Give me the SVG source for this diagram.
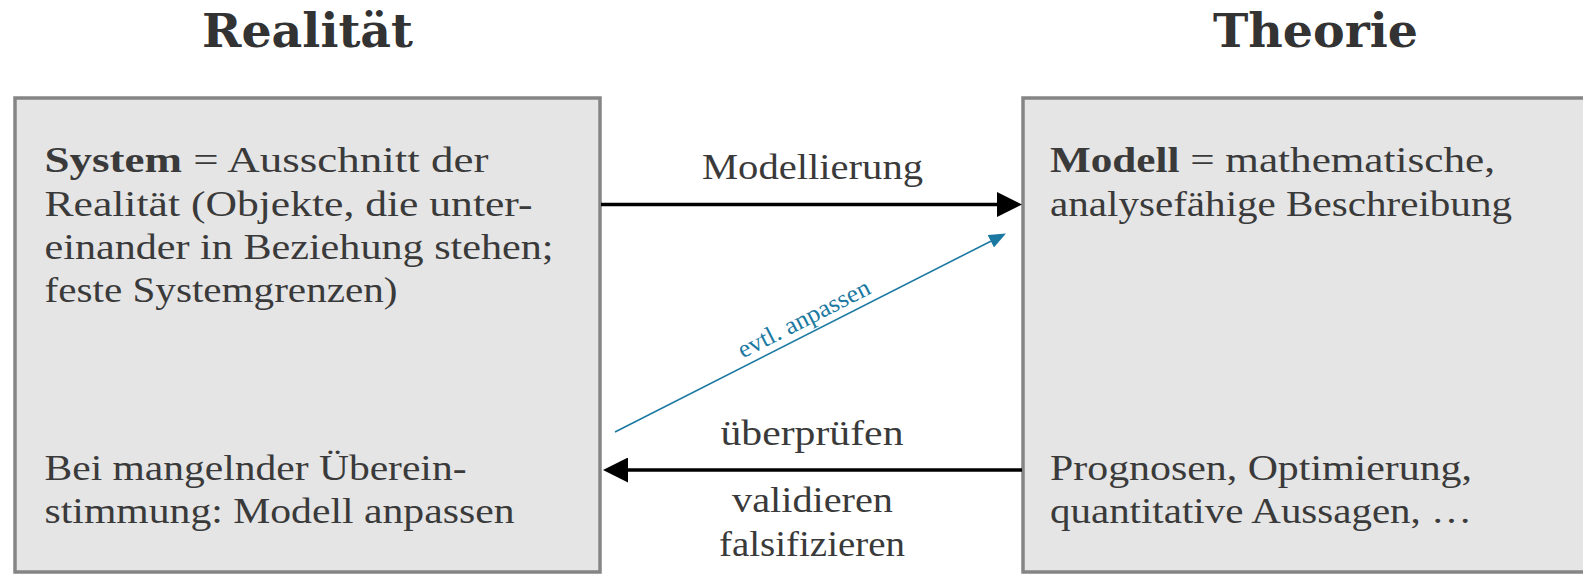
<svg xmlns="http://www.w3.org/2000/svg" width="1583" height="574" viewBox="0 0 1583 574">
<style>
.box{fill:#e5e5e5;stroke:#858585;stroke-width:3.5}
.title{font-family:"DejaVu Serif","Liberation Serif",serif;font-weight:bold;font-size:46px;fill:#333;text-anchor:middle}
.t{font-family:"Liberation Serif","Times New Roman",serif;font-size:35px;fill:#3a3a3a}
.c{text-anchor:middle}
.b{font-weight:bold}
.blk{stroke:#000;stroke-width:3.5;fill:none}
.blu{stroke:#1b79a1;stroke-width:1.6;fill:none}
.bt{font-family:"Liberation Serif","Times New Roman",serif;font-size:25px;fill:#1b79a1}
</style>
<defs>
<marker id="ah" viewBox="0 0 25 25" refX="0" refY="12.5" markerWidth="25" markerHeight="25" markerUnits="userSpaceOnUse" orient="auto">
<path d="M0,0 L25,12.5 L0,25 Z" fill="#000"/>
</marker>
<marker id="ahb" viewBox="0 0 17 14" refX="0" refY="7" markerWidth="17" markerHeight="14" markerUnits="userSpaceOnUse" orient="auto">
<path d="M0,0 L17,7 L0,14 Z" fill="#1b79a1"/>
</marker>
</defs>
<rect width="1583" height="574" fill="#fff"/>

<g id="title-realitaet"><text class="title" x="307.5" y="47" textLength="211" lengthAdjust="spacingAndGlyphs">Realität</text></g>
<g id="title-theorie"><text class="title" x="1315.5" y="47" textLength="205" lengthAdjust="spacingAndGlyphs">Theorie</text></g>

<g id="node-system">
<rect class="box" x="15" y="98" width="585" height="474"/>
<text class="t" x="44.5" y="172" textLength="444" lengthAdjust="spacingAndGlyphs"><tspan class="b">System</tspan> = Ausschnitt der</text>
<text class="t" x="44.5" y="215.5" textLength="488" lengthAdjust="spacingAndGlyphs">Realität (Objekte, die unter-</text>
<text class="t" x="44.5" y="259" textLength="509" lengthAdjust="spacingAndGlyphs">einander in Beziehung stehen;</text>
<text class="t" x="44.5" y="302" textLength="353" lengthAdjust="spacingAndGlyphs">feste Systemgrenzen)</text>
<text class="t" x="44.5" y="480" textLength="422" lengthAdjust="spacingAndGlyphs">Bei mangelnder Überein-</text>
<text class="t" x="44.5" y="523" textLength="470" lengthAdjust="spacingAndGlyphs">stimmung: Modell anpassen</text>
</g>

<g id="node-modell">
<rect class="box" x="1023" y="98" width="600" height="474"/>
<text class="t" x="1050" y="172" textLength="445" lengthAdjust="spacingAndGlyphs"><tspan class="b">Modell</tspan> = mathematische,</text>
<text class="t" x="1050" y="215.5" textLength="462" lengthAdjust="spacingAndGlyphs">analysefähige Beschreibung</text>
<text class="t" x="1050" y="480" textLength="422" lengthAdjust="spacingAndGlyphs">Prognosen, Optimierung,</text>
<text class="t" x="1050" y="523" textLength="422" lengthAdjust="spacingAndGlyphs">quantitative Aussagen, …</text>
</g>

<g id="connectors">
<line class="blk" x1="601" y1="204.5" x2="997" y2="204.5" marker-end="url(#ah)"/>
<text class="t c" x="812.5" y="178.5" textLength="221" lengthAdjust="spacingAndGlyphs">Modellierung</text>
<line class="blk" x1="1022" y1="470" x2="628" y2="470" marker-end="url(#ah)"/>
<text class="t c" x="812" y="445" textLength="183" lengthAdjust="spacingAndGlyphs">überprüfen</text>
<text class="t c" x="812.5" y="512" textLength="161" lengthAdjust="spacingAndGlyphs">validieren</text>
<text class="t c" x="812" y="556" textLength="186" lengthAdjust="spacingAndGlyphs">falsifizieren</text>
<line class="blu" x1="615" y1="432" x2="990.8" y2="241.2" marker-end="url(#ahb)"/>
<text class="bt c" transform="translate(807.5,325.8) rotate(-26.9)" x="0" y="0" textLength="145" lengthAdjust="spacingAndGlyphs">evtl. anpassen</text>
</g>
</svg>
